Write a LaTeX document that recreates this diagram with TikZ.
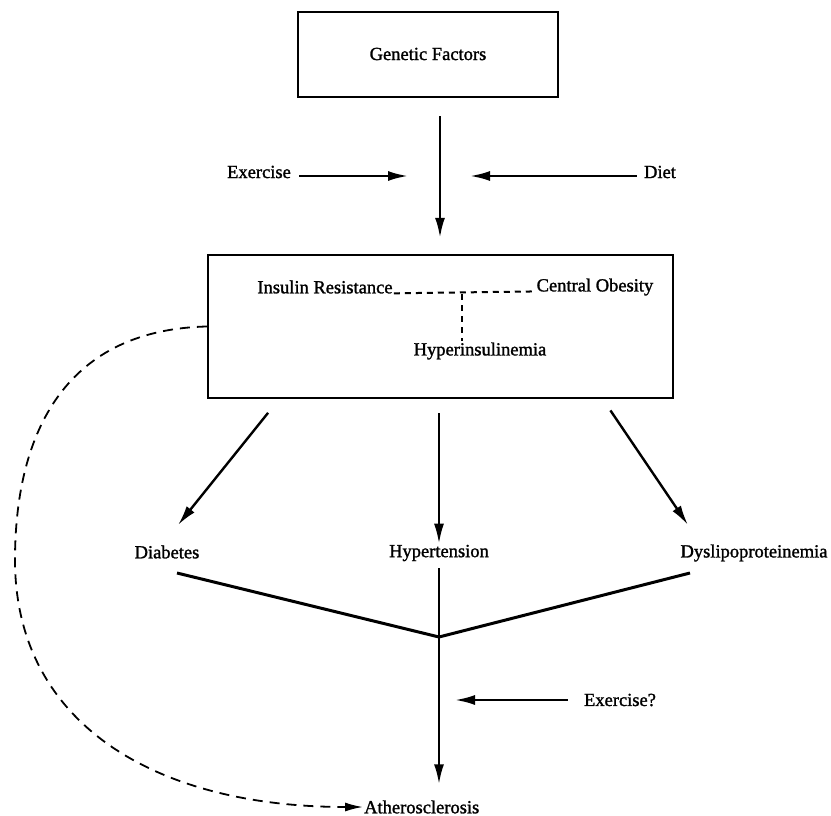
\documentclass[tikz,border=0pt]{standalone}
\usepackage{fontspec}
\setmainfont{Liberation Serif}
\newfontfamily\termfont{Liberation Serif}[BoldFont={Liberation Serif}, BoldFeatures={FakeBold=1.4}]
\usetikzlibrary{arrows.meta,positioning}
\newcommand{\termsize}{\fontsize{18.5}{22}\selectfont}
\tikzstyle{box}=[draw, line width=2.4pt, inner sep=0]
\tikzstyle{term}=[inner sep=1pt, font=\termfont\bfseries\termsize]
\tikzstyle{arrow}=[-{Latex[length=20pt,width=10pt]}, line width=2.4pt]
\tikzstyle{edge}=[-, line width=3pt]
\tikzstyle{link}=[-, line width=2pt, dash pattern=on 6pt off 5pt]
\tikzstyle{feedback}=[-{Latex[length=18pt,width=9pt]}, line width=1.8pt, dash pattern=on 10pt off 7pt]

\begin{document}
\begin{tikzpicture}[x=1pt, y=-1pt]
  \useasboundingbox (0,0) rectangle (831,816);

  \node[box, minimum width=260pt, minimum height=85pt] (GF) at (428,54.5) {};
  \node[term] (GFtext) at (428,54) {Genetic Factors};

  \node[term] (Ex1) at (259,172) {Exercise};
  \node[term] (Diet) at (660,172) {Diet};
  \coordinate (GFin) at (440,176);

  \node[box, minimum width=465pt, minimum height=143pt] (Big) at (440.5,326.5) {};
  \node[term] (IR) at (325,287) {Insulin Resistance};
  \node[term] (CO) at (595,287) {Central Obesity};
  \node[term] (HI) at (480,351) {Hyperinsulinemia};
  \coordinate (T) at (462,294);

  \node[term] (Dia) at (167,552) {Diabetes};
  \node[term] (Hyp) at (439,553) {Hypertension};
  \node[term] (Dys) at (754,553) {Dyslipoproteinemia};

  \node[term] (Ex2) at (620,700) {Exercise?};
  \node[term, anchor=west] (Ath) at (363,807) {Atherosclerosis};

  \coordinate (b1) at (280,398);
  \coordinate (b2) at (439,398);
  \coordinate (b3) at (602,398);
  \coordinate (d1) at (178,525);
  \coordinate (d3) at (688,525);
  \coordinate (l1) at (177,573);
  \coordinate (l3) at (690,573);
  \coordinate (J) at (439,637);

  % inputs to the metabolic box
  \draw[arrow, shorten <=18pt, shorten >=16pt] (GF.south -| GFin) -- (Big.north -| GFin);
  \draw[arrow, shorten <=7pt, shorten >=32pt] (Ex1.east |- GFin) -- (GFin);
  \draw[arrow, shorten <=6pt, shorten >=30pt] (Diet.west |- GFin) -- (GFin);

  % links inside the box
  \draw[link] (IR.base east) -- (CO.base west);
  \draw[link] (T) -- (HI.north -| T);

  % consequences
  \draw[arrow, shorten <=19pt] (b1) -- (d1);
  \draw[arrow, shorten <=15pt] (b2) -- (Hyp.north);
  \draw[arrow, shorten <=15pt] (b3) -- (d3);

  \draw[edge] (l1) -- (J) -- (l3);
  \draw[arrow, shorten <=6pt, shorten >=15pt] (Hyp.south) -- (Ath.north -| J);
  \draw[arrow, shorten <=15pt, shorten >=16pt] (Ex2.west) -- (J |- Ex2);

  % dashed path to atherosclerosis
  \draw[feedback] (Big.west) .. controls (60,330) and (15,440) .. (15,560)
    .. controls (15,720) and (150,807) .. (Ath.west);
\end{tikzpicture}
\end{document}
